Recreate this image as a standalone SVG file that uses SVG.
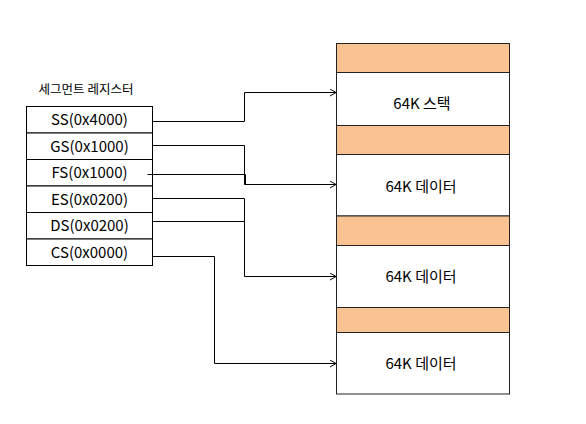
<svg xmlns="http://www.w3.org/2000/svg" width="586" height="424" viewBox="0 0 586 424">
<style>
text{font-family:"Noto Sans CJK KR","Liberation Sans",sans-serif;fill:#000;text-anchor:middle}
.t{font-size:15px}
.title{font-size:12.5px}
.reg{fill:#fff;stroke:#000;stroke-width:1}
.band{fill:#F9C292;stroke:#222;stroke-width:1}
.mem{fill:#fff;stroke:#222;stroke-width:1}
.c{fill:none;stroke:#000;stroke-width:1}
</style>
<defs>
<marker id="ah" markerWidth="8" markerHeight="8" refX="7" refY="4" orient="auto" markerUnits="userSpaceOnUse">
<path d="M1,0.5 L7,4 L1,7.5" fill="none" stroke="#000" stroke-width="1"/>
</marker>
</defs>
<rect width="586" height="424" fill="#fff"/>
<text class="title" x="86" y="94">세그먼트 레지스터</text>
<g id="registers">
<g id="reg-ss"><rect class="reg" x="26.5" y="106.5" width="126" height="26.5"/><text class="t" x="89.5" y="125">SS(0x4000)</text></g>
<g id="reg-gs"><rect class="reg" x="26.5" y="133" width="126" height="26.5"/><text class="t" x="89.5" y="151.5">GS(0x1000)</text></g>
<g id="reg-fs"><rect class="reg" x="26.5" y="159.5" width="126" height="26.5"/><text class="t" x="89.5" y="178">FS(0x1000)</text></g>
<g id="reg-es"><rect class="reg" x="26.5" y="186" width="126" height="26.5"/><text class="t" x="89.5" y="204.5">ES(0x0200)</text></g>
<g id="reg-ds"><rect class="reg" x="26.5" y="212.5" width="126" height="26.5"/><text class="t" x="89.5" y="231">DS(0x0200)</text></g>
<g id="reg-cs"><rect class="reg" x="26.5" y="239" width="126" height="26.5"/><text class="t" x="89.5" y="257.5">CS(0x0000)</text></g>
</g>
<g id="memory">
<g id="band1"><rect class="band" x="336.5" y="43.5" width="173" height="29"/></g>
<g id="stack"><rect class="mem" x="336.5" y="72.5" width="173" height="53"/><text class="t" x="422" y="108.5">64K 스택</text></g>
<g id="band2"><rect class="band" x="336.5" y="125.5" width="173" height="29"/></g>
<g id="data1"><rect class="mem" x="336.5" y="154.5" width="173" height="61.5"/><text class="t" x="421" y="191.5">64K 데이터</text></g>
<g id="band3"><rect class="band" x="336.5" y="216" width="173" height="29.5"/></g>
<g id="data2"><rect class="mem" x="336.5" y="245.5" width="173" height="62"/><text class="t" x="421" y="282">64K 데이터</text></g>
<g id="band4"><rect class="band" x="336.5" y="307.5" width="173" height="25"/></g>
<g id="data3"><rect class="mem" x="336.5" y="332.5" width="173" height="61.5"/><text class="t" x="421" y="369">64K 데이터</text></g>
</g>
<g id="connectors">
<path class="c" d="M152.5,121.5 H244.5 V92.5 H336" marker-end="url(#ah)"/>
<path class="c" d="M152.5,145.5 H244.5 V184.5 H336" marker-end="url(#ah)"/>
<path class="c" d="M147.5,174.5 H245.5 V184.5"/>
<path class="c" d="M152.5,198.5 H244.5 V276.5 H336" marker-end="url(#ah)"/>
<path class="c" d="M152.5,221.5 H244.5"/>
<path class="c" d="M152.5,256.5 H214.5 V363.5 H336" marker-end="url(#ah)"/>
</g>
</svg>
